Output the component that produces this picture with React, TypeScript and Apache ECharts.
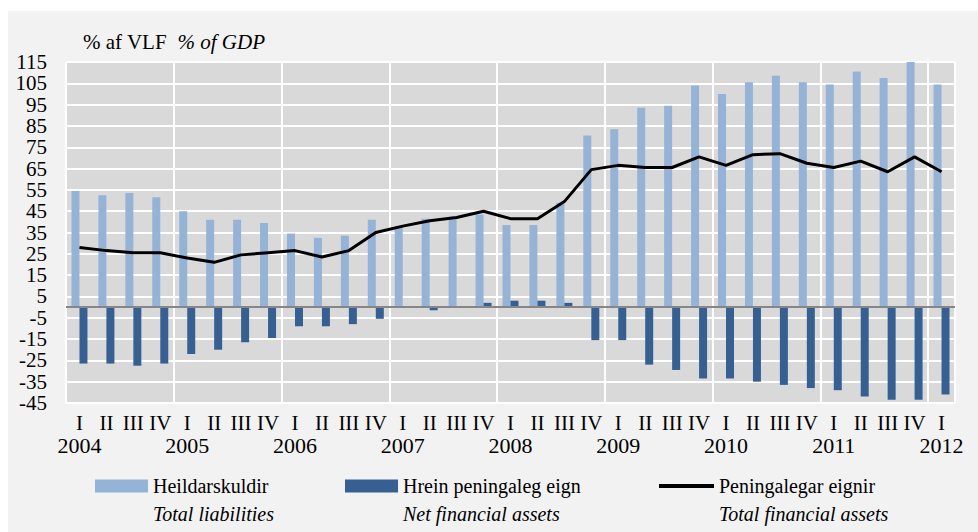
import React, { useEffect, useRef } from "react";
import * as echarts from "echarts";

const years = ["2004", "2005", "2006", "2007", "2008", "2009", "2010", "2011", "2012"];
const quarterNames = ["I", "II", "III", "IV"];
const categories = years.flatMap((y) => quarterNames.map((q) => `${y} ${q}`)).slice(0, 33);

// Heildarskuldir / Total liabilities
const liabilities = [
  54.5, 52.5, 53.5, 51.5,
  45, 41, 41, 39.5,
  34.5, 32.5, 33.5, 41,
  38, 41.5, 42.5, 43.5,
  38.5, 38.5, 49, 80.5,
  83.5, 93.5, 94.5, 104,
  100, 105.5, 108.5, 105.5,
  104.5, 110.5, 107.5, 115,
  104.5,
];

// Hrein peningaleg eign / Net financial assets
const netAssets = [
  -26.5, -26.5, -27.5, -26.5,
  -22, -20, -16.5, -14.5,
  -9, -9, -8, -5.5,
  -0.3, -1.5, -0.3, 2,
  3, 3, 2, -15.5,
  -15.5, -27, -29.5, -33.5,
  -33.5, -35, -36.5, -38,
  -39, -42, -43.5, -43.5,
  -41,
];

// Peningalegar eignir / Total financial assets
const totalAssets = [
  28, 26.5, 25.5, 25.5,
  23, 21, 24.5, 25.5,
  26.5, 23.5, 26.5, 35,
  38, 40.5, 42, 45,
  41.5, 41.5, 49.5, 64.5,
  66.5, 65.5, 65.5, 70.5,
  66.5, 71.5, 72, 67.5,
  65.5, 68.5, 63.5, 70.5,
  63.5,
];

const seriesNames = ["Heildarskuldir", "Hrein peningaleg eign", "Peningalegar eignir"];
const seriesNamesEn = ["Total liabilities", "Net financial assets", "Total financial assets"];

const FONT = "Liberation Serif";

export default function App() {
  const ref = useRef<HTMLDivElement>(null);

  useEffect(() => {
    if (!ref.current) return;
    const chart = echarts.init(ref.current, null, { renderer: "svg" });

    const rs = (extra: any = {}) => ({ fontFamily: FONT, fontSize: 20, lineHeight: 28, fontWeight: "normal", color: "#000", ...extra });
    const mkLegend = (i: number, left: number, w: number, h: number) => ({
      data: [{ name: seriesNames[i], icon: "rect" }],
      left,
      top: 448,
      padding: 0,
      itemWidth: w,
      itemHeight: h,
      itemGap: 5,
      selectedMode: false,
      formatter: (name: string) => `{e| }\n{a|${name}}\n{b|${seriesNamesEn[seriesNames.indexOf(name)]}}`,
      textStyle: {
        fontFamily: FONT,
        fontSize: 20,
        fontWeight: "normal",
        color: "#000",
        rich: { e: rs(), a: rs(), b: rs({ fontStyle: "italic" }) },
      },
    });

    const baseXAxis = {
      type: "category",
      data: categories,
      boundaryGap: true,
      gridIndex: 0,
      position: "bottom",
      axisLine: { show: false, onZero: false },
      axisTick: { show: false },
    };

    chart.setOption({
      animation: false,
      backgroundColor: "#f2f2f2",
      textStyle: { fontFamily: FONT, fontWeight: "normal" },
      graphic: [
        { type: "rect", silent: true, shape: { x: 0, y: 0, width: 978, height: 11 }, style: { fill: "#ffffff" } },
        { type: "rect", silent: true, shape: { x: 0, y: 0, width: 8, height: 532 }, style: { fill: "#ffffff" } },
      ],
      title: {
        text: "{a|% af VLF}  {b|% of GDP}",
        left: 83,
        top: 31,
        padding: 0,
        textStyle: {
          fontFamily: FONT,
          fontSize: 21,
          fontWeight: "normal",
          color: "#000",
          rich: {
            a: { fontFamily: FONT, fontSize: 21, fontWeight: "normal", color: "#000" },
            b: { fontFamily: FONT, fontSize: 21, fontWeight: "normal", color: "#000", fontStyle: "italic" },
          },
        },
      },
      legend: [
        mkLegend(0, 95, 53, 13),
        mkLegend(1, 345, 53, 13),
        mkLegend(2, 659, 55, 4),
      ],
      grid: {
        left: 66,
        top: 62,
        width: 889,
        height: 341,
        show: true,
        backgroundColor: "#d9d9d9",
        borderWidth: 0,
      },
      xAxis: [
        {
          ...baseXAxis,
          splitLine: { show: true, interval: 3, lineStyle: { color: "#ffffff", width: 2 } },
          axisLabel: {
            interval: 0,
            margin: 9,
            fontFamily: FONT,
            fontSize: 21,
            lineHeight: 21,
            color: "#000",
            formatter: (val: string) => val.split(" ")[1],
          },
        },
        {
          ...baseXAxis,
          splitLine: { show: false },
          axisLabel: {
            interval: 0,
            margin: 31,
            fontFamily: FONT,
            fontSize: 22,
            lineHeight: 22,
            color: "#000",
            formatter: (val: string) => {
              const [y, q] = val.split(" ");
              return q === "I" ? y : "";
            },
          },
        },
      ],
      yAxis: {
        type: "value",
        min: -45,
        max: 115,
        interval: 10,
        axisLine: { show: false },
        axisTick: { show: false },
        splitLine: { show: true, lineStyle: { color: "#ffffff", width: 2 } },
        axisLabel: { margin: 19, fontFamily: FONT, fontSize: 21, lineHeight: 19, color: "#000" },
      },
      series: [
        {
          name: seriesNames[0],
          type: "bar",
          xAxisIndex: 0,
          data: liabilities,
          barWidth: 8,
          barGap: "0%",
          itemStyle: { color: "#95b3d7" },
          markLine: {
            silent: true,
            symbol: "none",
            label: { show: false },
            lineStyle: { color: "#868686", width: 2, type: "solid" },
            data: [{ yAxis: 0 }],
          },
        },
        {
          name: seriesNames[1],
          type: "bar",
          xAxisIndex: 0,
          data: netAssets,
          barWidth: 8,
          barGap: "0%",
          itemStyle: { color: "#376092" },
        },
        {
          name: seriesNames[2],
          type: "line",
          xAxisIndex: 0,
          data: totalAssets,
          color: "#000000",
          symbol: "none",
          showSymbol: false,
          itemStyle: { color: "#000000" },
          lineStyle: { color: "#000000", width: 3 },
          z: 5,
        },
      ],
    });

    return () => chart.dispose();
  }, []);

  return (
    <div
      ref={ref}
      style={{ position: "absolute", left: 0, top: 0, width: 978, height: 532 }}
    />
  );
}
